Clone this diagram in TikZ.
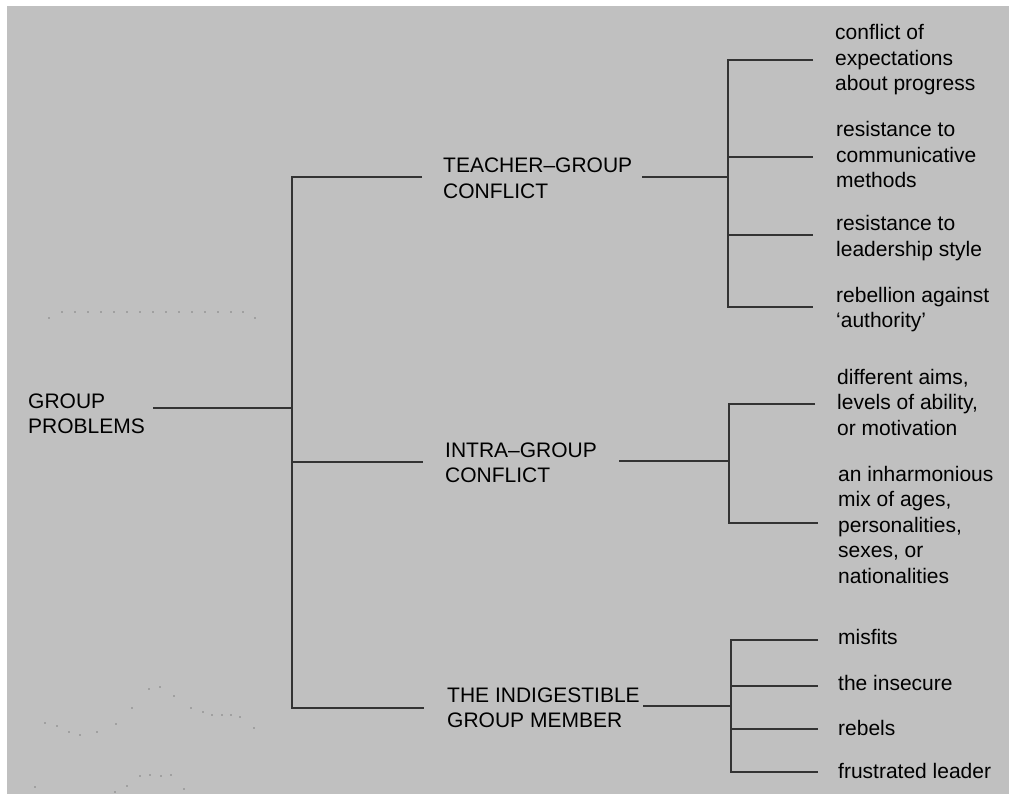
\documentclass[tikz,border=0pt]{standalone}
\usepackage{fontspec}
\setmainfont{Liberation Sans}
\definecolor{bggray}{RGB}{192,192,192}
\begin{document}
\begin{tikzpicture}[x=1pt,y=-1pt,
  lbl/.style={anchor=base west, inner sep=0pt, font=\fontsize{21}{25.5}\selectfont, text=black},
  conn/.style={draw=black!80, line width=1.4pt},
  speck/.style={fill=black!50}]
\fill[white] (0,0) rectangle (1009,794);
\fill[bggray] (7,6) rectangle (1009,794);
\useasboundingbox (0,0) rectangle (1009,794);

% labels
\newcommand{\lines}[1]{\begin{tabular}[t]{@{}l@{}}#1\end{tabular}}
\node[lbl] (root) at (28,408) {\lines{GROUP\\PROBLEMS}};
\node[lbl] (tg) at (443,173) {\lines{TEACHER–GROUP\\CONFLICT}};
\node[lbl] (ig) at (445,457) {\lines{INTRA–GROUP\\CONFLICT}};
\node[lbl] (im) at (447,702) {\lines{THE INDIGESTIBLE\\GROUP MEMBER}};

\node[lbl] (tg1) at (835,40) {\lines{conflict of\\expectations\\about progress}};
\node[lbl] (tg2) at (836,137) {\lines{resistance to\\communicative\\methods}};
\node[lbl] (tg3) at (836,231) {\lines{resistance to\\leadership style}};
\node[lbl] (tg4) at (836,302) {\lines{rebellion against\\‘authority’}};

\node[lbl] (ig1) at (837,384) {\lines{different aims,\\levels of ability,\\or motivation}};
\node[lbl] (ig2) at (838,481) {\lines{an inharmonious\\mix of ages,\\personalities,\\sexes, or\\nationalities}};

\node[lbl] (im1) at (838,644) {misfits};
\node[lbl] (im2) at (838,690) {the insecure};
\node[lbl] (im3) at (838,735) {rebels};
\node[lbl] (im4) at (838,778) {frustrated leader};

% junction coordinates
\coordinate (rootR) at (153,408);
\coordinate (trMid) at (292,408);
\coordinate (trTop) at (292,177);
\coordinate (trIg) at (292,462);
\coordinate (trBot) at (292,708);
\coordinate (tgL) at (422,177);
\coordinate (igL) at (423,462);
\coordinate (imL) at (424,708);

\coordinate (tgR) at (642,177);
\coordinate (tgJ) at (728,177);
\coordinate (tgTop) at (728,60);
\coordinate (tgBot) at (728,307);
\coordinate (tg1L) at (813,60);
\coordinate (tg2J) at (728,157);
\coordinate (tg2L) at (813,157);
\coordinate (tg3J) at (728,235);
\coordinate (tg3L) at (813,235);
\coordinate (tg4L) at (813,307);

\coordinate (igR) at (619,461);
\coordinate (igJ) at (729,461);
\coordinate (igTop) at (729,404);
\coordinate (igBot) at (729,523);
\coordinate (ig1L) at (815,404);
\coordinate (ig2L) at (818,523);

\coordinate (imR) at (643,706);
\coordinate (imJ) at (731,706);
\coordinate (imTop) at (731,640);
\coordinate (imBot) at (731,772);
\coordinate (im1L) at (818,640);
\coordinate (im2J) at (731,686);
\coordinate (im2L) at (818,686);
\coordinate (im3J) at (731,729);
\coordinate (im3L) at (818,729);
\coordinate (im4L) at (818,772);

% connectors
\draw[conn] (rootR) -- (trMid);
\draw[conn] (tgL) -- (trTop) -- (trBot) -- (imL);
\draw[conn] (trIg) -- (igL);

\draw[conn] (tgR) -- (tgJ);
\draw[conn] (tg1L) -- (tgTop) -- (tgBot) -- (tg4L);
\draw[conn] (tg2J) -- (tg2L);
\draw[conn] (tg3J) -- (tg3L);

\draw[conn] (igR) -- (igJ);
\draw[conn] (ig1L) -- (igTop) -- (igBot) -- (ig2L);

\draw[conn] (imR) -- (imJ);
\draw[conn] (im1L) -- (imTop) -- (imBot) -- (im4L);
\draw[conn] (im2J) -- (im2L);
\draw[conn] (im3J) -- (im3L);

% faint specks of the scan
\foreach \p in {(49,318),(62,312),(75,312),(88,312),(101,312),(114,312),(127,312),(140,312),(153,312),(166,312),(179,312),(192,312),(205,312),(218,312),(231,312),(243,312),(255,318),
  (45,723),(57,726),(69,732),(80,735),(97,732),(116,724),(132,708),(149,689),(160,687),(174,696),(191,708),(203,712),(212,715),(222,715),(231,715),(240,717),(254,728),
  (35,787),(115,792),(127,786),(140,776),(150,775),(161,776),(171,775),(184,789)}
  \fill[speck] \p circle (0.9);
\end{tikzpicture}
\end{document}
